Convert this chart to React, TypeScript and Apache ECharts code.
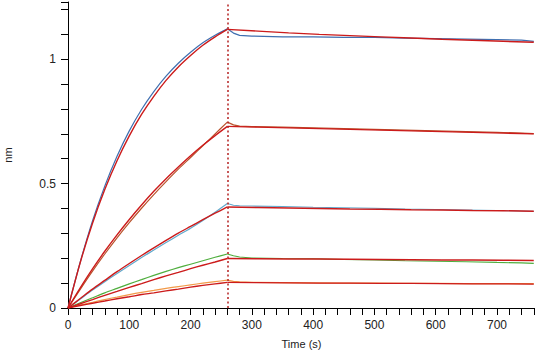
import React, { useEffect, useRef } from "react";
import * as echarts from "echarts";

// Time points (s)
const assocTime = [0, 20, 40, 60, 80, 100, 120, 140, 160, 180, 200, 220, 240, 260];
const fitDissocTime = [260, 310, 360, 410, 460, 510, 560, 610, 660, 710, 760];
const dataDissocTime = [260, 270, 280, 300, 350, 400, 450, 500, 550, 600, 650, 700, 740, 760];
const dissocStart = 260;

// Measured responses (nm) - association
const data1Assoc = [0, 0.185, 0.35, 0.49, 0.61, 0.712, 0.798, 0.87, 0.932, 0.984, 1.028, 1.066, 1.096, 1.122];
const data2Assoc = [0, 0.075, 0.148, 0.217, 0.282, 0.343, 0.401, 0.456, 0.508, 0.558, 0.605, 0.652, 0.7, 0.747];
const data3Assoc = [0, 0.036, 0.072, 0.106, 0.139, 0.171, 0.203, 0.233, 0.263, 0.292, 0.321, 0.352, 0.385, 0.42];
const data4Assoc = [0, 0.021, 0.041, 0.061, 0.079, 0.097, 0.114, 0.131, 0.147, 0.162, 0.176, 0.19, 0.204, 0.217];
const data5Assoc = [0, 0.012, 0.023, 0.034, 0.044, 0.054, 0.063, 0.071, 0.079, 0.086, 0.093, 0.1, 0.106, 0.112];

// Measured responses (nm) - dissociation
const data1Dissoc = [1.122, 1.105, 1.096, 1.093, 1.09, 1.09, 1.088, 1.088, 1.085, 1.083, 1.081, 1.079, 1.077, 1.072];
const data2Dissoc = [0.747, 0.736, 0.731, 0.729, 0.727, 0.724, 0.721, 0.718, 0.715, 0.712, 0.709, 0.706, 0.703, 0.701];
const data3Dissoc = [0.42, 0.413, 0.411, 0.41, 0.408, 0.405, 0.403, 0.401, 0.398, 0.396, 0.394, 0.392, 0.39, 0.388];
const data4Dissoc = [0.217, 0.21, 0.205, 0.201, 0.199, 0.198, 0.195, 0.193, 0.19, 0.188, 0.186, 0.183, 0.181, 0.179];
const data5Dissoc = [0.112, 0.107, 0.105, 0.103, 0.102, 0.101, 0.1, 0.1, 0.099, 0.099, 0.098, 0.098, 0.098, 0.098];

// Global fit curves (nm)
const fit1Assoc = [0, 0.183, 0.341, 0.476, 0.592, 0.692, 0.778, 0.851, 0.915, 0.969, 1.015, 1.056, 1.09, 1.12];
const fit2Assoc = [0, 0.081, 0.157, 0.228, 0.294, 0.356, 0.414, 0.469, 0.52, 0.567, 0.612, 0.654, 0.693, 0.73];
const fit3Assoc = [0, 0.038, 0.076, 0.111, 0.146, 0.179, 0.211, 0.242, 0.272, 0.301, 0.328, 0.355, 0.381, 0.406];
const fit4Assoc = [0, 0.017, 0.034, 0.051, 0.067, 0.083, 0.098, 0.114, 0.129, 0.143, 0.158, 0.172, 0.185, 0.199];
const fit5Assoc = [0, 0.01, 0.019, 0.028, 0.037, 0.045, 0.054, 0.061, 0.069, 0.076, 0.084, 0.091, 0.097, 0.103];

const fit1Dissoc = [1.12, 1.113, 1.106, 1.1, 1.095, 1.09, 1.085, 1.08, 1.076, 1.072, 1.068];
const fit2Dissoc = [0.73, 0.727, 0.724, 0.721, 0.718, 0.715, 0.712, 0.709, 0.706, 0.703, 0.7];
const fit3Dissoc = [0.406, 0.404, 0.402, 0.4, 0.398, 0.397, 0.395, 0.394, 0.392, 0.391, 0.389];
const fit4Dissoc = [0.199, 0.198, 0.197, 0.197, 0.196, 0.195, 0.194, 0.193, 0.193, 0.192, 0.191];
const fit5Dissoc = [0.103, 0.102, 0.101, 0.1, 0.1, 0.099, 0.099, 0.098, 0.097, 0.097, 0.096];

const dataColors = ["#3f6fb0", "#b9532c", "#62a9cc", "#4fae3e", "#f29a48"];
const fitColor = "#cc1b1b";

const dataAssoc = [data1Assoc, data2Assoc, data3Assoc, data4Assoc, data5Assoc];
const dataDissoc = [data1Dissoc, data2Dissoc, data3Dissoc, data4Dissoc, data5Dissoc];
const fitAssoc = [fit1Assoc, fit2Assoc, fit3Assoc, fit4Assoc, fit5Assoc];
const fitDissoc = [fit1Dissoc, fit2Dissoc, fit3Dissoc, fit4Dissoc, fit5Dissoc];

const zip = (xs: number[], ys: number[]) => xs.map((x, i) => [x, ys[i]]);

export default function App() {
  const ref = useRef<HTMLDivElement>(null);
  useEffect(() => {
    if (!ref.current) return;
    const chart = echarts.init(ref.current, null, { renderer: "svg" });
    const series: any[] = [];
    dataAssoc.forEach((d, i) => {
      series.push({
        type: "line", data: zip(assocTime, d), showSymbol: false, smooth: 0.3,
        lineStyle: { color: dataColors[i], width: 1.2 }, z: 2,
      });
      series.push({
        type: "line", data: zip(dataDissocTime, dataDissoc[i]), showSymbol: false,
        lineStyle: { color: dataColors[i], width: 1.2 }, z: 2,
      });
    });
    fitAssoc.forEach((d, i) => {
      series.push({
        type: "line", data: zip(assocTime, d), showSymbol: false, smooth: 0.3,
        lineStyle: { color: fitColor, width: 1.4 }, z: 3,
      });
      series.push({
        type: "line", data: zip(fitDissocTime, fitDissoc[i]), showSymbol: false,
        lineStyle: { color: fitColor, width: 1.4 }, z: 3,
      });
    });
    series[0].markLine = {
      silent: true, symbol: "none", label: { show: false },
      lineStyle: { color: "#b52020", type: [2, 2.5], width: 1.5 },
      data: [{ xAxis: dissocStart }],
    };
    chart.setOption({
      animation: false,
      grid: { left: 68, right: 0, top: 2, bottom: 43, containLabel: false, outerBoundsMode: "none" },
      xAxis: {
        type: "value", min: 0, max: 762, interval: 20,
        name: "Time (s)", nameLocation: "middle", nameGap: 30,
        nameTextStyle: { fontFamily: "Liberation Sans", fontSize: 11, color: "#222" },
        axisLine: { lineStyle: { color: "#000", width: 1 } },
        axisTick: { length: 7, lineStyle: { color: "#000" } },
        axisLabel: {
          interval: 0, margin: 11, fontFamily: "Liberation Sans", fontSize: 12, color: "#222",
          formatter: (v: number) => (Math.round(v) % 100 === 0 && v <= 700 ? String(Math.round(v)) : ""),
        },
        splitLine: { show: false },
      },
      yAxis: {
        type: "value", min: 0, max: 1.23, interval: 0.1,
        name: "nm", nameLocation: "middle", nameGap: 55, nameRotate: 90,
        nameTextStyle: { fontFamily: "Liberation Sans", fontSize: 11, color: "#222" },
        axisLine: { show: true, lineStyle: { color: "#000", width: 1 } },
        axisTick: { show: true, length: 7, lineStyle: { color: "#000" } },
        axisLabel: {
          margin: 12, fontFamily: "Liberation Sans", fontSize: 12, color: "#222",
          formatter: (v: number) =>
            Math.abs(v) < 1e-6 ? "0" : Math.abs(v - 0.5) < 1e-6 ? "0.5" : Math.abs(v - 1) < 1e-6 ? "1" : "",
        },
        splitLine: { show: false },
      },
      series,
    });
    return () => chart.dispose();
  }, []);
  return (
    <div
      ref={ref}
      style={{ position: "absolute", left: 0, top: 0, width: 535, height: 351, background: "#fff" }}
    />
  );
}
